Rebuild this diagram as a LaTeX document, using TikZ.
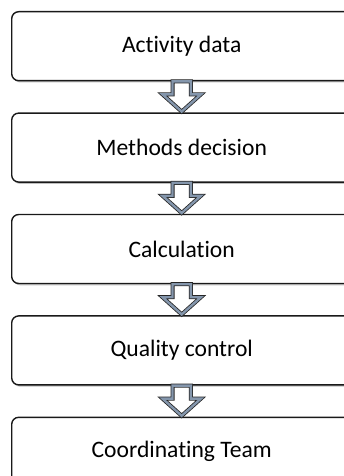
\documentclass[tikz,border=0pt]{standalone}
\usepackage{fontspec}
\setmainfont{Carlito}[Ligatures=NoCommon]
\usepackage{xcolor}
\usepackage{tikz}
\usetikzlibrary{positioning, shadows}

\definecolor{arrowgray}{HTML}{8496AC}

\begin{document}
\begin{tikzpicture}[
  node distance=15.5pt,
  every node/.style={font=\fontsize{11.8}{14}\selectfont},
  stage/.style={rectangle, rounded corners=3.5pt, draw=black!90, line width=0.7pt, fill=white,
    minimum width=170pt, minimum height=34.5pt, align=center,
    drop shadow={shadow xshift=0.7pt, shadow yshift=-0.9pt, opacity=0.25, fill=black}},
  flowarrow/.style={draw=black!85, line width=0.4pt, double=arrowgray, double distance=1.2pt, fill=white, line join=miter},
]

\useasboundingbox (0,0) rectangle (171.5pt,-238pt);

% Activity data
\node[stage, anchor=north west] (act) at (5.5pt,-5.5pt) {Activity data};

% Methods decision
\node[stage, below=of act] (meth) {Methods decision};

% Calculation
\node[stage, below=of meth] (calc) {Calculation};

% Quality control
\node[stage, below=of calc] (qc) {Quality control};

% Coordinating Team
\node[stage, below=of qc] (team) {Coordinating Team};

% Arrows
\foreach \a/\b in {act/meth, meth/calc, calc/qc, qc/team}
  \draw[flowarrow] ([xshift=-4.6pt]\a.south) -- ([xshift=-4.6pt, yshift=-6.5pt]\a.south)
    -- ([xshift=-9.6pt, yshift=-6.5pt]\a.south) -- ([yshift=0.4pt]\b.north)
    -- ([xshift=9.6pt, yshift=-6.5pt]\a.south) -- ([xshift=4.6pt, yshift=-6.5pt]\a.south)
    -- ([xshift=4.6pt]\a.south) -- cycle;

\end{tikzpicture}
\end{document}
